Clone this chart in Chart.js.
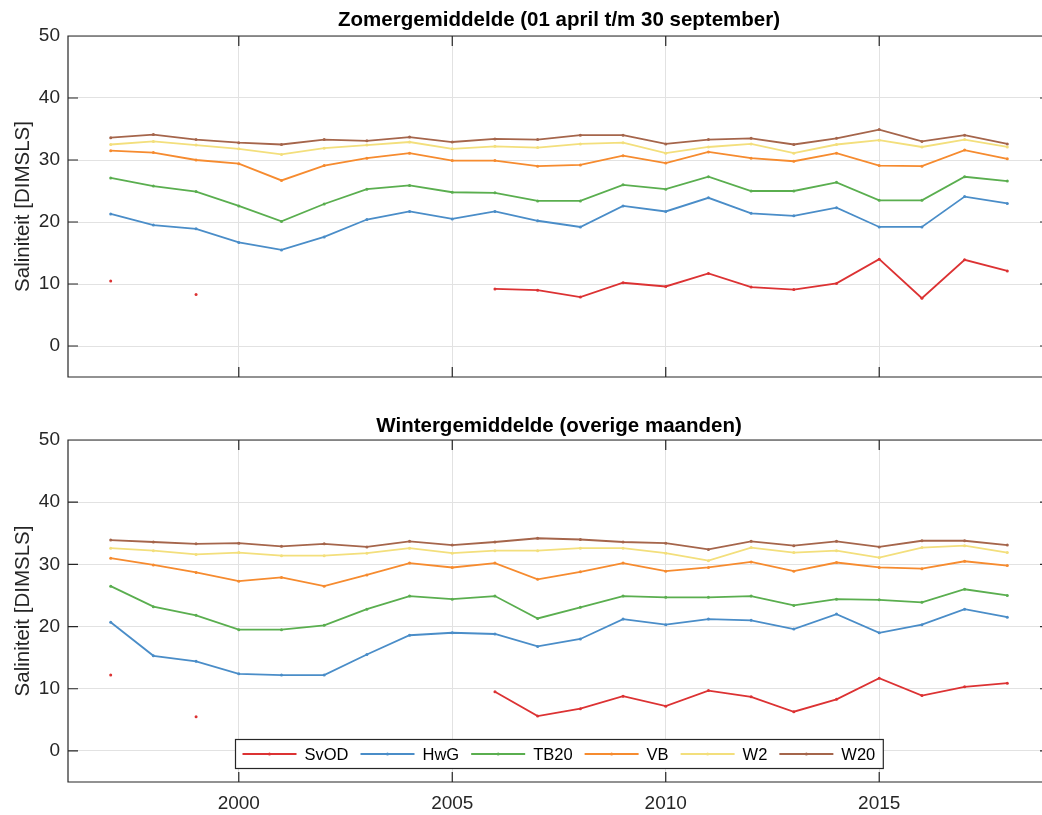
<!DOCTYPE html>
<html>
<head>
<meta charset="utf-8">
<script src="https://cdn.jsdelivr.net/npm/chart.js@4/dist/chart.umd.min.js"></script>
<style>
html,body{margin:0;padding:0;overflow:hidden;background:#fff;width:1042px;height:815px;}
#wrap{position:relative;width:1042px;height:815px;overflow:hidden;background:#fff;}
.box{position:absolute;left:0;width:1060px;}
#top{top:0;height:400px;}
#bot{top:400px;height:415px;}
</style>
</head>
<body>
<div id="wrap">
  <div class="box" id="top"><canvas id="c1"></canvas></div>
  <div class="box" id="bot"><canvas id="c2"></canvas></div>
</div>
<script>
// ---------- data ----------
const years = [1997,1998,1999,2000,2001,2002,2003,2004,2005,2006,2007,2008,2009,2010,2011,2012,2013,2014,2015,2016,2017,2018];
const seriesNames = ['SvOD','HwG','TB20','VB','W2','W20'];
const seriesColors = ['#dc3233','#4a8dc8','#5aae4f','#f68b2f','#f3df7c','#a5654b'];

const titleSummer = 'Zomergemiddelde (01 april t/m 30 september)';
const titleWinter = 'Wintergemiddelde (overige maanden)';
const yAxisLabel = 'Saliniteit [DIMSLS]';
const xTickValues = [2000,2005,2010,2015];
const yTickValues = [0,10,20,30,40,50];

// Zomer
const zomerSvOD = [10.5,null,8.3,null,null,null,null,null,null,9.2,9.0,7.9,10.2,9.6,11.7,9.5,9.1,10.1,14.0,7.7,13.9,12.1];
const zomerHwG  = [21.3,19.5,18.9,16.7,15.5,17.6,20.4,21.7,20.5,21.7,20.2,19.2,22.6,21.7,23.9,21.4,21.0,22.3,19.2,19.2,24.1,23.0];
const zomerTB20 = [27.1,25.8,24.9,22.6,20.1,22.9,25.3,25.9,24.8,24.7,23.4,23.4,26.0,25.3,27.3,25.0,25.0,26.4,23.5,23.5,27.3,26.6];
const zomerVB   = [31.5,31.2,30.0,29.4,26.7,29.1,30.3,31.1,29.9,29.9,29.0,29.2,30.7,29.5,31.3,30.3,29.8,31.1,29.1,29.0,31.6,30.2];
const zomerW2   = [32.5,33.0,32.4,31.8,30.9,31.9,32.4,32.9,31.8,32.2,32.0,32.6,32.8,31.1,32.1,32.6,31.1,32.5,33.2,32.1,33.3,32.1];
const zomerW20  = [33.6,34.1,33.3,32.8,32.5,33.3,33.1,33.7,32.9,33.4,33.3,34.0,34.0,32.6,33.3,33.5,32.5,33.5,34.9,33.0,34.0,32.6];

// Winter
const winterSvOD = [12.2,null,5.5,null,null,null,null,null,null,9.5,5.6,6.8,8.8,7.2,9.7,8.7,6.3,8.3,11.7,8.9,10.3,10.9];
const winterHwG  = [20.7,15.3,14.4,12.4,12.2,12.2,15.5,18.6,19.0,18.8,16.8,18.0,21.2,20.3,21.2,21.0,19.6,22.0,19.0,20.3,22.8,21.5];
const winterTB20 = [26.5,23.2,21.8,19.5,19.5,20.2,22.8,24.9,24.4,24.9,21.3,23.1,24.9,24.7,24.7,24.9,23.4,24.4,24.3,23.9,26.0,25.0];
const winterVB   = [31.0,29.9,28.7,27.3,27.9,26.5,28.3,30.2,29.5,30.2,27.6,28.8,30.2,28.9,29.5,30.4,28.9,30.3,29.5,29.3,30.5,29.8];
const winterW2   = [32.6,32.2,31.6,31.9,31.4,31.4,31.8,32.6,31.8,32.2,32.2,32.6,32.6,31.8,30.6,32.7,31.9,32.2,31.1,32.7,33.0,31.9];
const winterW20  = [33.9,33.6,33.3,33.4,32.9,33.3,32.8,33.7,33.1,33.6,34.2,34.0,33.6,33.4,32.4,33.7,33.0,33.7,32.8,33.8,33.8,33.1];

const zomerSeries  = [zomerSvOD, zomerHwG, zomerTB20, zomerVB, zomerW2, zomerW20];
const winterSeries = [winterSvOD, winterHwG, winterTB20, winterVB, winterW2, winterW20];

// ---------- styling ----------
const FONT = '"Liberation Sans", Arial, Helvetica, sans-serif';
const AXIS_COLOR = '#262626';
const GRID_COLOR = '#e2e2e2';
Chart.defaults.font.family = FONT;

function makeDatasets(series) {
  return series.map((vals, k) => ({
    label: seriesNames[k],
    data: years.map((yr, i) => ({x: yr, y: vals[i]})),
    borderColor: seriesColors[k],
    backgroundColor: seriesColors[k],
    borderWidth: 1.8,
    pointRadius: 1.5,
    pointHoverRadius: 0,
    pointBorderWidth: 0,
    spanGaps: false,
    tension: 0
  }));
}

// frame with inward ticks (MATLAB style box)
const framePlugin = {
  id: 'frame',
  afterDatasetsDraw(chart) {
    const {ctx, chartArea: a, scales: {x, y}} = chart;
    const L = 10;
    ctx.save();
    ctx.strokeStyle = AXIS_COLOR;
    ctx.lineWidth = 1.2;
    ctx.beginPath();
    xTickValues.forEach(v => {
      const px = x.getPixelForValue(v);
      ctx.moveTo(px, a.top); ctx.lineTo(px, a.top + L);
      ctx.moveTo(px, a.bottom); ctx.lineTo(px, a.bottom - L);
    });
    yTickValues.forEach(v => {
      const py = y.getPixelForValue(v);
      ctx.moveTo(a.left, py); ctx.lineTo(a.left + L, py);
      ctx.moveTo(a.right, py); ctx.lineTo(a.right - L, py);
    });
    // left, top, bottom edges (right edge lies outside the visible page)
    ctx.moveTo(a.right, a.top); ctx.lineTo(a.left, a.top);
    ctx.lineTo(a.left, a.bottom); ctx.lineTo(a.right, a.bottom);
    ctx.stroke();
    ctx.restore();
  }
};

// legend drawn inside the plot area (south)
const legendPlugin = {
  id: 'insideLegend',
  afterDraw(chart) {
    const {ctx, chartArea: a} = chart;
    const ds = chart.data.datasets;
    const lineLen = 54, gap = 8, between = 12, padL = 7, padR = 8, h = 29;
    ctx.save();
    ctx.font = '16.5px ' + FONT;
    let w = padL + padR + between * (ds.length - 1);
    ds.forEach(d => { w += lineLen + gap + ctx.measureText(d.label).width; });
    const x0 = Math.round((a.left + a.right) / 2 - w / 2) + 0.5;
    const y1 = Math.round(a.bottom - 14) + 0.5;
    const y0 = y1 - h;
    ctx.fillStyle = '#ffffff';
    ctx.fillRect(x0, y0, w, h);
    ctx.strokeStyle = AXIS_COLOR;
    ctx.lineWidth = 1.2;
    ctx.strokeRect(x0, y0, w, h);
    let x = x0 + padL;
    const cy = y0 + h / 2;
    ds.forEach(d => {
      ctx.strokeStyle = d.borderColor;
      ctx.lineWidth = d.borderWidth;
      ctx.beginPath();
      ctx.moveTo(x, cy); ctx.lineTo(x + lineLen, cy);
      ctx.stroke();
      ctx.fillStyle = d.borderColor;
      ctx.beginPath();
      ctx.arc(x + lineLen / 2, cy, 1.5, 0, Math.PI * 2);
      ctx.fill();
      x += lineLen + gap;
      ctx.fillStyle = '#000';
      ctx.textBaseline = 'middle';
      ctx.textAlign = 'left';
      ctx.fillText(d.label, x, cy + 1);
      x += ctx.measureText(d.label).width + between;
    });
    ctx.restore();
  }
};

function makeChart(canvasId, series, titleText, showXLabels, titlePad, layoutPad, plugins) {
  return new Chart(document.getElementById(canvasId), {
    type: 'line',
    data: { datasets: makeDatasets(series) },
    options: {
      responsive: true,
      maintainAspectRatio: false,
      animation: false,
      events: [],
      layout: { padding: layoutPad },
      plugins: {
        legend: { display: false },
        tooltip: { enabled: false },
        title: {
          display: true,
          text: titleText,
          fullSize: false,
          color: '#000',
          font: { size: 20.5, weight: 'bold', family: FONT },
          padding: titlePad
        }
      },
      scales: {
        x: {
          type: 'linear',
          min: 1996,
          max: 2019,
          afterBuildTicks: s => { s.ticks = xTickValues.map(v => ({value: v})); },
          afterFit: s => { s.height = showXLabels ? 33 : 0; },
          grid: { color: GRID_COLOR, lineWidth: 1, drawTicks: false },
          border: { display: false },
          ticks: {
            display: showXLabels,
            autoSkip: false,
            maxRotation: 0,
            padding: 10,
            color: AXIS_COLOR,
            font: { size: 19, family: FONT },
            callback: v => String(v)
          }
        },
        y: {
          type: 'linear',
          min: -5,
          max: 50,
          afterBuildTicks: s => { s.ticks = yTickValues.map(v => ({value: v})); },
          afterFit: s => { s.width = 68; },
          grid: { color: GRID_COLOR, lineWidth: 1, drawTicks: false },
          border: { display: false },
          ticks: {
            padding: 8,
            color: AXIS_COLOR,
            font: { size: 19, family: FONT },
            callback: v => String(v)
          },
          title: {
            display: true,
            text: yAxisLabel,
            color: AXIS_COLOR,
            font: { size: 20.5, family: FONT },
            padding: { top: 11.5, bottom: 0 }
          }
        }
      }
    },
    plugins: plugins
  });
}

makeChart('c1', zomerSeries, titleSummer, false, {top: 8.5, bottom: 2.9}, {left: 0, right: 10, top: 0, bottom: 23}, [framePlugin]);
makeChart('c2', winterSeries, titleWinter, true, {top: 13.7, bottom: 1.7}, {left: 0, right: 10, top: 0, bottom: 0}, [framePlugin, legendPlugin]);
</script>
</body>
</html>
